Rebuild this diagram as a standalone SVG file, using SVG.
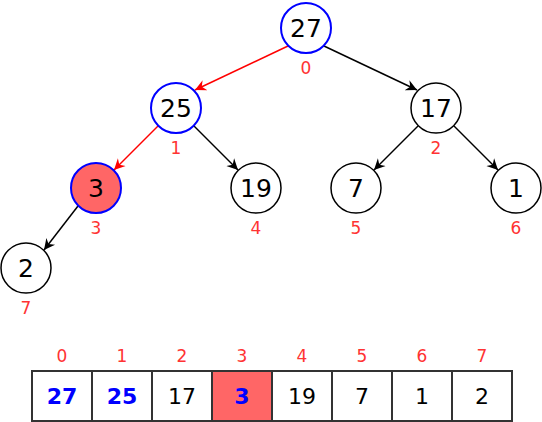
<svg xmlns="http://www.w3.org/2000/svg" width="542" height="422" viewBox="0 0 542 422">
<style>
.n{fill:#fff;stroke:#000;stroke-width:1.5}
.b{stroke:#0000ff;stroke-width:2}
.h{fill:#ff6666}
.t{font-family:"DejaVu Sans",Verdana,sans-serif;font-size:25px;fill:#000;text-anchor:middle;dominant-baseline:central}
.a{font-size:22px}
.i{font-family:"DejaVu Sans",Verdana,sans-serif;font-size:17px;fill:#ff3333;text-anchor:middle;dominant-baseline:central}
.e{stroke:#000;stroke-width:1.5;fill:none}
.r{stroke:#ff0000}
.c{fill:#fff;stroke:#333;stroke-width:2}
.bt{font-weight:bold;fill:#0000ff}
</style>
<defs>
<marker id="ab" markerWidth="13" markerHeight="13" refX="11" refY="5.5" orient="auto" markerUnits="userSpaceOnUse" viewBox="0 0 13 11">
<path d="M0,0 L11,5.5 L0,11 L3.5,5.5 Z" fill="#000"/>
</marker>
<marker id="ar" markerWidth="13" markerHeight="13" refX="11" refY="5.5" orient="auto" markerUnits="userSpaceOnUse" viewBox="0 0 13 11">
<path d="M0,0 L11,5.5 L0,11 L3.5,5.5 Z" fill="#ff0000"/>
</marker>
</defs>
<g id="connectors">
<line class="e r" x1="288" y1="46" x2="195" y2="90" marker-end="url(#ar)"/>
<line class="e" x1="324" y1="46" x2="417" y2="90" marker-end="url(#ab)"/>
<line class="e r" x1="158" y1="126" x2="114" y2="170" marker-end="url(#ar)"/>
<line class="e" x1="194" y1="126" x2="238" y2="170" marker-end="url(#ab)"/>
<line class="e" x1="418" y1="126" x2="374" y2="170" marker-end="url(#ab)"/>
<line class="e" x1="454" y1="126" x2="498" y2="170" marker-end="url(#ab)"/>
<line class="e" x1="78" y1="206" x2="44" y2="250" marker-end="url(#ab)"/>
</g>
<g id="node0"><circle class="n b" cx="306" cy="28" r="25"/><text class="t" x="306" y="28">27</text><text class="i" x="306" y="68">0</text></g>
<g id="node1"><circle class="n b" cx="176" cy="108" r="25"/><text class="t" x="176" y="108">25</text><text class="i" x="176" y="148">1</text></g>
<g id="node2"><circle class="n" cx="436" cy="108" r="25"/><text class="t" x="436" y="108">17</text><text class="i" x="436" y="148">2</text></g>
<g id="node3"><circle class="n b h" cx="96" cy="188" r="25"/><text class="t" x="96" y="188">3</text><text class="i" x="96" y="228">3</text></g>
<g id="node4"><circle class="n" cx="256" cy="188" r="25"/><text class="t" x="256" y="188">19</text><text class="i" x="256" y="228">4</text></g>
<g id="node5"><circle class="n" cx="356" cy="188" r="25"/><text class="t" x="356" y="188">7</text><text class="i" x="356" y="228">5</text></g>
<g id="node6"><circle class="n" cx="516" cy="188" r="25"/><text class="t" x="516" y="188">1</text><text class="i" x="516" y="228">6</text></g>
<g id="node7"><circle class="n" cx="26" cy="268" r="25"/><text class="t" x="26" y="268">2</text><text class="i" x="26" y="308">7</text></g>
<g id="array">
<rect class="c" x="32" y="371" width="60" height="50"/>
<rect class="c" x="92" y="371" width="60" height="50"/>
<rect class="c" x="152" y="371" width="60" height="50"/>
<rect class="c" x="212" y="371" width="60" height="50" style="fill:#ff6666"/>
<rect class="c" x="272" y="371" width="60" height="50"/>
<rect class="c" x="332" y="371" width="60" height="50"/>
<rect class="c" x="392" y="371" width="60" height="50"/>
<rect class="c" x="452" y="371" width="60" height="50"/>
<text class="t a bt" x="62" y="396">27</text>
<text class="t a bt" x="122" y="396">25</text>
<text class="t a" x="182" y="396">17</text>
<text class="t a bt" x="242" y="396">3</text>
<text class="t a" x="302" y="396">19</text>
<text class="t a" x="362" y="396">7</text>
<text class="t a" x="422" y="396">1</text>
<text class="t a" x="482" y="396">2</text>
<text class="i" x="62" y="356">0</text>
<text class="i" x="122" y="356">1</text>
<text class="i" x="182" y="356">2</text>
<text class="i" x="242" y="356">3</text>
<text class="i" x="302" y="356">4</text>
<text class="i" x="362" y="356">5</text>
<text class="i" x="422" y="356">6</text>
<text class="i" x="482" y="356">7</text>
</g>
</svg>
